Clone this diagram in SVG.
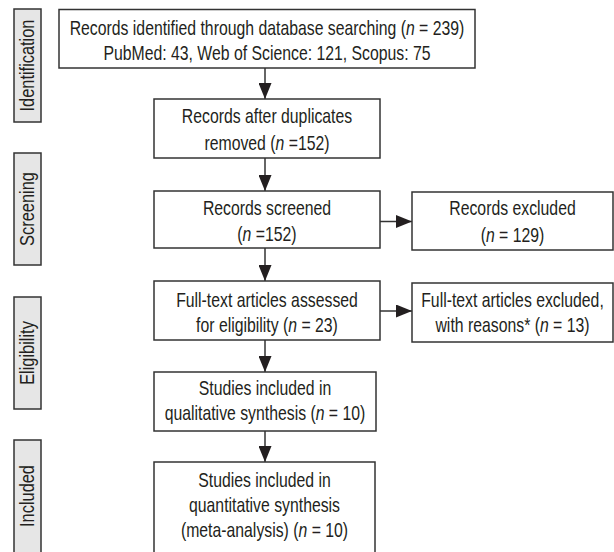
<svg xmlns="http://www.w3.org/2000/svg" width="614" height="552" viewBox="0 0 614 552">
<style>
  .box { fill: #ffffff; stroke: #333333; stroke-width: 1.5; }
  .side { fill: #e6e6e6; stroke: #333333; stroke-width: 1.5; }
  .t { font-family: "Liberation Sans", Arial, sans-serif; font-size: 20px; fill: #231f20; text-anchor: middle; }
  .i { font-style: italic; }
  .conn { stroke: #333333; stroke-width: 1.5; fill: none; marker-end: url(#ah); }
</style>
<defs>
  <marker id="ah" markerUnits="userSpaceOnUse" markerWidth="16" markerHeight="13" refX="16" refY="6.5" orient="auto">
    <path d="M0,0 L16,6.5 L0,13 Z" fill="#231f20"/>
  </marker>
</defs>
<rect width="614" height="552" fill="#ffffff"/>

<g id="side-identification">
  <rect class="side" x="14" y="9" width="27" height="113"/>
  <text class="t" transform="translate(34,65.5) rotate(-90) scale(0.82,1)">Identification</text>
</g>
<g id="side-screening">
  <rect class="side" x="14" y="153" width="27" height="112"/>
  <text class="t" transform="translate(34,209) rotate(-90) scale(0.82,1)">Screening</text>
</g>
<g id="side-eligibility">
  <rect class="side" x="14" y="297" width="27" height="112"/>
  <text class="t" transform="translate(34,353) rotate(-90) scale(0.82,1)">Eligibility</text>
</g>
<g id="side-included">
  <rect class="side" x="14" y="440" width="27" height="114"/>
  <text class="t" transform="translate(34,496) rotate(-90) scale(0.82,1)">Included</text>
</g>

<g id="connectors">
  <line class="conn" x1="265" y1="68" x2="265" y2="99"/>
  <line class="conn" x1="265" y1="158" x2="265" y2="191"/>
  <line class="conn" x1="265" y1="248" x2="265" y2="281"/>
  <line class="conn" x1="265" y1="340" x2="265" y2="372"/>
  <line class="conn" x1="265" y1="431" x2="265" y2="462"/>
  <line class="conn" x1="380" y1="221.5" x2="412" y2="221.5"/>
  <line class="conn" x1="380" y1="311" x2="412" y2="311"/>
</g>

<g id="identified">
  <rect class="box" x="59" y="9.5" width="416" height="58.5"/>
  <text class="t" transform="translate(267,35) scale(0.79,1)">Records identified through database searching (<tspan class="i">n</tspan> = 239)</text>
  <text class="t" transform="translate(267,60) scale(0.79,1)">PubMed: 43, Web of Science: 121, Scopus: 75</text>
</g>
<g id="duplicates">
  <rect class="box" x="154" y="99" width="226" height="59"/>
  <text class="t" transform="translate(267,123) scale(0.79,1)">Records after duplicates</text>
  <text class="t" transform="translate(267,150) scale(0.79,1)">removed (<tspan class="i">n</tspan> =152)</text>
</g>
<g id="screened">
  <rect class="box" x="154" y="191" width="226" height="57"/>
  <text class="t" transform="translate(267,215) scale(0.79,1)">Records screened</text>
  <text class="t" transform="translate(267,241) scale(0.79,1)">(<tspan class="i">n</tspan> =152)</text>
</g>
<g id="excluded">
  <rect class="box" x="412" y="192" width="201" height="58"/>
  <text class="t" transform="translate(512.5,215) scale(0.79,1)">Records excluded</text>
  <text class="t" transform="translate(512.5,242) scale(0.79,1)">(<tspan class="i">n</tspan> = 129)</text>
</g>
<g id="fulltext">
  <rect class="box" x="154" y="281" width="226" height="59"/>
  <text class="t" transform="translate(267,307) scale(0.79,1)">Full-text articles assessed</text>
  <text class="t" transform="translate(267,332) scale(0.79,1)">for eligibility (<tspan class="i">n</tspan> = 23)</text>
</g>
<g id="fulltext-excluded">
  <rect class="box" x="412" y="283" width="201" height="59"/>
  <text class="t" transform="translate(512.5,307) scale(0.79,1)">Full-text articles excluded,</text>
  <text class="t" transform="translate(512.5,332) scale(0.79,1)">with reasons* (<tspan class="i">n</tspan> = 13)</text>
</g>
<g id="qualitative">
  <rect class="box" x="154" y="372" width="222" height="59"/>
  <text class="t" transform="translate(265,395) scale(0.79,1)">Studies included in</text>
  <text class="t" transform="translate(265,420) scale(0.79,1)">qualitative synthesis (<tspan class="i">n</tspan> = 10)</text>
</g>
<g id="quantitative">
  <rect class="box" x="154" y="462" width="221" height="92"/>
  <text class="t" transform="translate(264.5,487) scale(0.79,1)">Studies included in</text>
  <text class="t" transform="translate(264.5,512) scale(0.79,1)">quantitative synthesis</text>
  <text class="t" transform="translate(264.5,537) scale(0.79,1)">(meta-analysis) (<tspan class="i">n</tspan> = 10)</text>
</g>
</svg>
